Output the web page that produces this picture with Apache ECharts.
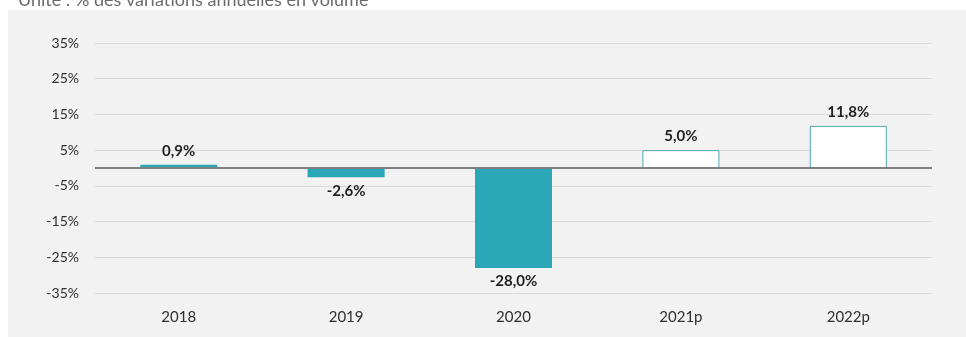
<!DOCTYPE html>
<html>
<head>
<meta charset="utf-8">
<script src="https://cdn.jsdelivr.net/npm/echarts@6/dist/echarts.min.js"></script>
<style>
html,body{margin:0;padding:0;background:#ffffff;}
#chart{width:966px;height:337px;}
</style>
</head>
<body>
<div id="chart"></div>
<script>
const categories = ['2018', '2019', '2020', '2021p', '2022p'];
const values = [0.9, -2.6, -28.0, 5.0, 11.8];
const projected = [false, false, false, true, true];
const yTickLabels = ['-35%', '-25%', '-15%', '-5%', '5%', '15%', '25%', '35%'];
const titleText = 'Unité : % des variations annuelles en volume';

const teal = '#2ba6b7';
const fmt = v => v.toFixed(1).replace('.', ',') + '%';
const fam = 'Lato, "Noto Sans", sans-serif';

const data = values.map((v, i) => ({
  value: v,
  itemStyle: projected[i]
    ? { color: '#ffffff', borderColor: '#4fa9b1', borderWidth: 1 }
    : { color: teal },
  label: { position: v >= 0 ? 'top' : 'bottom' }
}));

const chart = echarts.init(document.getElementById('chart'), null, { renderer: 'canvas' });
chart.setOption({
  animation: false,
  backgroundColor: '#ffffff',
  graphic: [
    { type: 'rect', z: -10, shape: { x: 8, y: 10, width: 958, height: 327 }, style: { fill: '#f2f2f2' } },
    { type: 'text', left: 18, top: -9, style: { text: titleText, fill: '#6b6b6b', font: '18px ' + fam } }
  ],
  grid: { left: 95, right: 34, top: 43, bottom: 44 },
  xAxis: {
    type: 'category',
    data: categories,
    position: 'bottom',
    axisLine: { show: false, onZero: false },
    axisTick: { show: false },
    axisLabel: { color: '#2e2e2e', fontSize: 15, margin: 17, fontFamily: fam }
  },
  yAxis: {
    type: 'value',
    min: -35,
    max: 35,
    interval: 5,
    axisLine: { show: false },
    axisTick: { show: false },
    axisLabel: {
      color: '#2e2e2e', fontSize: 14, margin: 16, fontFamily: fam,
      formatter: v => {
        const s = Math.round(v) + '%';
        return yTickLabels.indexOf(s) >= 0 ? s : '';
      }
    },
    splitLine: { show: true, lineStyle: { color: ['#dadada', 'rgba(0,0,0,0)'], width: 1 } }
  },
  series: [{
    type: 'bar',
    data: data,
    barWidth: '46%',
    label: {
      show: true,
      formatter: p => fmt(p.value),
      color: '#1f1f1f',
      fontSize: 15,
      fontWeight: 'bold',
      fontFamily: fam,
      distance: 6
    },
    markLine: {
      silent: true,
      symbol: 'none',
      label: { show: false },
      lineStyle: { color: '#7f7f7f', width: 2, type: 'solid' },
      data: [{ yAxis: 0 }]
    }
  }]
});
</script>
</body>
</html>
